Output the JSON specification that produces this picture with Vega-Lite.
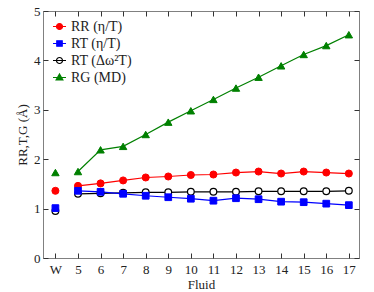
{
  "$schema": "https://vega.github.io/schema/vega-lite/v6.json",
  "width": 316,
  "height": 247,
  "autosize": {"type": "none"},
  "padding": {"left": 43, "top": 11, "right": 15, "bottom": 34},
  "config": {
    "view": {"stroke": "#808080", "strokeWidth": 1},
    "font": "Liberation Serif",
    "axis": {"grid": false, "domain": false, "tickColor": "#333", "labelFont": "Liberation Serif", "titleFont": "Liberation Serif", "labelFontSize": 13, "titleFontSize": 13, "titleFontWeight": "normal", "labelColor": "#222", "titleColor": "#222"}
  },
  "data": {"values": [
    {"x": 4, "s": "RT (Δω²T)", "v": 0.95},
    {"x": 5, "s": "RT (Δω²T)", "v": 1.30},
    {"x": 6, "s": "RT (Δω²T)", "v": 1.31},
    {"x": 7, "s": "RT (Δω²T)", "v": 1.32},
    {"x": 8, "s": "RT (Δω²T)", "v": 1.33},
    {"x": 9, "s": "RT (Δω²T)", "v": 1.33},
    {"x": 10, "s": "RT (Δω²T)", "v": 1.34},
    {"x": 11, "s": "RT (Δω²T)", "v": 1.34},
    {"x": 12, "s": "RT (Δω²T)", "v": 1.34},
    {"x": 13, "s": "RT (Δω²T)", "v": 1.35},
    {"x": 14, "s": "RT (Δω²T)", "v": 1.35},
    {"x": 15, "s": "RT (Δω²T)", "v": 1.35},
    {"x": 16, "s": "RT (Δω²T)", "v": 1.35},
    {"x": 17, "s": "RT (Δω²T)", "v": 1.36},
    {"x": 4, "s": "RR (η/T)", "v": 1.36},
    {"x": 5, "s": "RR (η/T)", "v": 1.46},
    {"x": 6, "s": "RR (η/T)", "v": 1.51},
    {"x": 7, "s": "RR (η/T)", "v": 1.57},
    {"x": 8, "s": "RR (η/T)", "v": 1.63},
    {"x": 9, "s": "RR (η/T)", "v": 1.65},
    {"x": 10, "s": "RR (η/T)", "v": 1.68},
    {"x": 11, "s": "RR (η/T)", "v": 1.69},
    {"x": 12, "s": "RR (η/T)", "v": 1.73},
    {"x": 13, "s": "RR (η/T)", "v": 1.75},
    {"x": 14, "s": "RR (η/T)", "v": 1.71},
    {"x": 15, "s": "RR (η/T)", "v": 1.75},
    {"x": 16, "s": "RR (η/T)", "v": 1.73},
    {"x": 17, "s": "RR (η/T)", "v": 1.71},
    {"x": 4, "s": "RT (η/T)", "v": 1.01},
    {"x": 5, "s": "RT (η/T)", "v": 1.36},
    {"x": 6, "s": "RT (η/T)", "v": 1.34},
    {"x": 7, "s": "RT (η/T)", "v": 1.30},
    {"x": 8, "s": "RT (η/T)", "v": 1.26},
    {"x": 9, "s": "RT (η/T)", "v": 1.23},
    {"x": 10, "s": "RT (η/T)", "v": 1.20},
    {"x": 11, "s": "RT (η/T)", "v": 1.16},
    {"x": 12, "s": "RT (η/T)", "v": 1.21},
    {"x": 13, "s": "RT (η/T)", "v": 1.19},
    {"x": 14, "s": "RT (η/T)", "v": 1.14},
    {"x": 15, "s": "RT (η/T)", "v": 1.13},
    {"x": 16, "s": "RT (η/T)", "v": 1.10},
    {"x": 17, "s": "RT (η/T)", "v": 1.07},
    {"x": 4, "s": "RG (MD)", "v": 1.73},
    {"x": 5, "s": "RG (MD)", "v": 1.75},
    {"x": 6, "s": "RG (MD)", "v": 2.19},
    {"x": 7, "s": "RG (MD)", "v": 2.26},
    {"x": 8, "s": "RG (MD)", "v": 2.50},
    {"x": 9, "s": "RG (MD)", "v": 2.75},
    {"x": 10, "s": "RG (MD)", "v": 2.98},
    {"x": 11, "s": "RG (MD)", "v": 3.21},
    {"x": 12, "s": "RG (MD)", "v": 3.44},
    {"x": 13, "s": "RG (MD)", "v": 3.66},
    {"x": 14, "s": "RG (MD)", "v": 3.89},
    {"x": 15, "s": "RG (MD)", "v": 4.12},
    {"x": 16, "s": "RG (MD)", "v": 4.30},
    {"x": 17, "s": "RG (MD)", "v": 4.52}
  ]},
  "resolve": {"axis": {"x": "independent", "y": "independent"}},
  "layer": [
    {
      "transform": [{"filter": "datum.x >= 5 && datum.s == 'RG (MD)'"}],
      "mark": {"type": "line", "strokeWidth": 1.2, "color": "#008000"},
      "encoding": {
        "x": {"field": "x", "type": "quantitative", "scale": {"domain": [3.45, 17.45], "nice": false, "zero": false},
              "axis": {"values": [4,5,6,7,8,9,10,11,12,13,14,15,16,17], "labelExpr": "datum.value == 4 ? 'W' : datum.label", "tickSize": -5, "labelPadding": 10, "title": "Fluid", "titlePadding": 2}},
        "y": {"field": "v", "type": "quantitative", "scale": {"domain": [0, 5], "nice": false},
              "axis": {"values": [0,1,2,3,4,5], "tickSize": -5, "labelPadding": 8, "title": "RR,T,G (Å)", "titlePadding": 4}}
      }
    },
    {
      "transform": [{"filter": "datum.x >= 5 && datum.s == 'RR (η/T)'"}],
      "mark": {"type": "line", "strokeWidth": 1.2, "color": "#ff0000"},
      "encoding": {
        "x": {"field": "x", "type": "quantitative", "axis": null},
        "y": {"field": "v", "type": "quantitative", "axis": null}
      }
    },
    {
      "transform": [{"filter": "datum.x >= 5 && datum.s == 'RT (Δω²T)'"}],
      "mark": {"type": "line", "strokeWidth": 1.2, "color": "#000000"},
      "encoding": {
        "x": {"field": "x", "type": "quantitative", "axis": null},
        "y": {"field": "v", "type": "quantitative", "axis": null}
      }
    },
    {
      "transform": [{"filter": "datum.x >= 5 && datum.s == 'RT (η/T)'"}],
      "mark": {"type": "line", "strokeWidth": 1.2, "color": "#0000ff"},
      "encoding": {
        "x": {"field": "x", "type": "quantitative", "axis": null},
        "y": {"field": "v", "type": "quantitative", "axis": null}
      }
    },
    {
      "transform": [{"filter": "datum.s == 'RT (Δω²T)'"}],
      "mark": {"type": "point", "shape": "circle", "filled": true, "opacity": 1, "fill": "#ffffff", "stroke": "#000000", "strokeWidth": 1.2, "size": 45},
      "encoding": {
        "x": {"field": "x", "type": "quantitative", "axis": {"orient": "top", "values": [4,5,6,7,8,9,10,11,12,13,14,15,16,17], "labels": false, "tickSize": -5, "title": null}},
        "y": {"field": "v", "type": "quantitative", "axis": {"orient": "right", "values": [0,1,2,3,4,5], "labels": false, "tickSize": -5, "title": null}}
      }
    },
    {
      "transform": [{"filter": "datum.s == 'RR (η/T)'"}],
      "mark": {"type": "point", "shape": "circle", "filled": true, "opacity": 1, "fill": "#ff0000", "stroke": "#ff0000", "strokeWidth": 1, "size": 50},
      "encoding": {
        "x": {"field": "x", "type": "quantitative", "axis": null},
        "y": {"field": "v", "type": "quantitative", "axis": null}
      }
    },
    {
      "transform": [{"filter": "datum.s == 'RT (η/T)'"}],
      "mark": {"type": "point", "shape": "square", "filled": true, "opacity": 1, "fill": "#0000ff", "stroke": "#0000ff", "strokeWidth": 1, "size": 45},
      "encoding": {
        "x": {"field": "x", "type": "quantitative", "axis": null},
        "y": {"field": "v", "type": "quantitative", "axis": null}
      }
    },
    {
      "transform": [{"filter": "datum.s == 'RG (MD)'"}],
      "mark": {"type": "point", "shape": "triangle-up", "filled": true, "opacity": 1, "fill": "#008000", "stroke": "#008000", "strokeWidth": 1, "size": 55},
      "encoding": {
        "x": {"field": "x", "type": "quantitative", "axis": null},
        "y": {"field": "v", "type": "quantitative", "axis": null}
      }
    },
    {
      "transform": [{"filter": "datum.x < 0"}],
      "mark": {"type": "point", "filled": true, "opacity": 1, "strokeWidth": 1.2},
      "encoding": {
        "x": {"field": "x", "type": "quantitative", "axis": null},
        "y": {"field": "v", "type": "quantitative", "axis": null},
        "shape": {"field": "s", "type": "nominal",
                  "scale": {"domain": ["RR (η/T)", "RT (η/T)", "RT (Δω²T)", "RG (MD)"],
                            "range": ["M-1,0H1M-0.46,0A0.46,0.46,0,1,1,0.46,0A0.46,0.46,0,1,1,-0.46,0Z", "M-1,0H1M-0.42,-0.42H0.42V0.42H-0.42Z", "M-1,0H1M-0.46,0A0.46,0.46,0,1,1,0.46,0A0.46,0.46,0,1,1,-0.46,0Z", "M-1,0H1M0,-0.55L0.52,0.38H-0.52Z"]},
                  "legend": {"orient": "none", "legendX": 9, "legendY": 8, "title": null, "symbolSize": 169, "symbolStrokeWidth": 1.2, "labelFont": "Liberation Serif", "labelFontSize": 14, "labelColor": "#222", "rowPadding": 2, "labelOffset": 4}},
        "fill": {"field": "s", "type": "nominal",
                 "scale": {"domain": ["RR (η/T)", "RT (η/T)", "RT (Δω²T)", "RG (MD)"], "range": ["#ff0000", "#0000ff", "#ffffff", "#008000"]}},
        "stroke": {"field": "s", "type": "nominal",
                   "scale": {"domain": ["RR (η/T)", "RT (η/T)", "RT (Δω²T)", "RG (MD)"], "range": ["#ff0000", "#0000ff", "#000000", "#008000"]}}
      }
    }
  ]
}
